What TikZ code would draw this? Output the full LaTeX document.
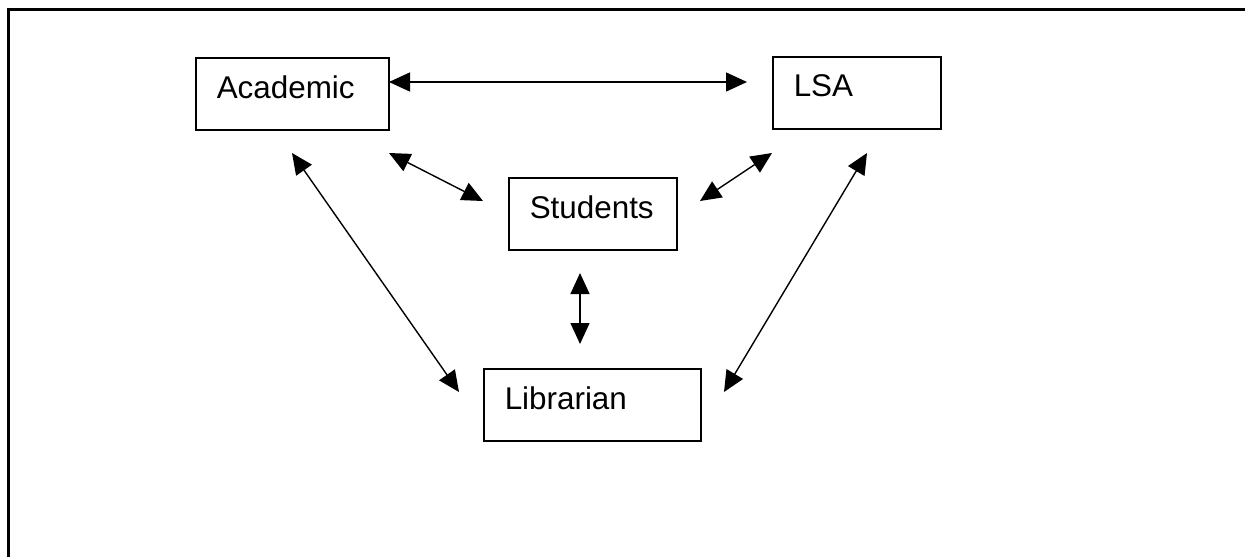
\documentclass[tikz,border=0pt]{standalone}
\usepackage{fontspec}
\setmainfont{Liberation Sans}
\usetikzlibrary{arrows.meta}

\begin{document}
\begin{tikzpicture}[x=0.5pt, y=-0.5pt,
    box/.style={draw, line width=0.75pt, anchor=north west, align=left,
      inner xsep=10.5pt, inner ysep=0pt, text depth=7pt, minimum height=36pt,
      font=\fontsize{15.7pt}{18pt}\selectfont},
    biarrow/.style={line width=0.7pt,
      {Triangle[length=10.5pt,width=9.5pt]}-{Triangle[length=10.5pt,width=9.5pt]}}]
   \useasboundingbox (0,0) rectangle (1245,557);
   \draw[line width=1.5pt] (8,557) -- (8,9) -- (1245,9);
   %% the four boxes
   \node[box, text width=75.5pt] (aca) at (195,57) {Academic};
   \node[box, text width=63pt] (lsa) at (772,56) {LSA};
   \node[box, text width=63pt] (stu) at (508,177) {Students};
   \node[box, text width=87.5pt] (lib) at (483,368) {Librarian};
   %% arrow ends
   \coordinate (acaE) at (389,82);   \coordinate (lsaW) at (747,82);
   \coordinate (acaS) at (389,153);  \coordinate (stuW) at (483,201);
   \coordinate (lsaS) at (772,153);  \coordinate (stuE) at (700,201);
   \coordinate (acaB) at (292,153);  \coordinate (libW) at (459,392);
   \coordinate (lsaB) at (867,153);  \coordinate (libE) at (724,392);
   \coordinate (stuB) at (580,273);  \coordinate (libN) at (580,344);
   \foreach \from/\to in {acaE/lsaW, acaS/stuW, lsaS/stuE, acaB/libW, lsaB/libE, stuB/libN}
        \draw[biarrow] (\from) -- (\to);
\end{tikzpicture}
\end{document}
